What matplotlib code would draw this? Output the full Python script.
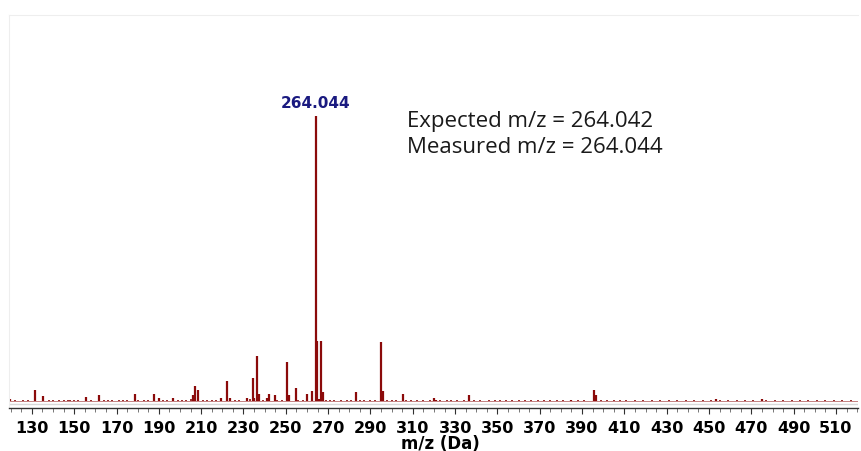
import matplotlib
matplotlib.use("Agg")
import matplotlib.pyplot as plt
from matplotlib.ticker import FixedLocator, MultipleLocator

# ---- data (relative intensity %) ----
peak_mz = [131.4, 135.3, 155.8, 161.8, 178.7, 187.8, 190.2, 196.5,
           206.2, 207.0, 208.3, 219.2, 222.3, 223.6, 231.5, 234.3,
           235.1, 236.3, 237.3, 240.9, 241.9, 244.7, 250.7, 251.5,
           254.8, 259.8, 262.6, 264.044, 264.8, 265.8, 266.7, 267.7,
           283.1, 295.1, 296.0, 305.5, 320.1, 320.9, 336.7, 395.7,
           396.8, 453.3, 474.8, 385.0, 119.8]
peak_int = [4.0, 1.9, 1.5, 2.1, 2.5, 2.5, 1.0, 1.2,
            2.0, 5.2, 4.0, 1.0, 7.0, 1.0, 1.0, 8.2,
            1.0, 15.9, 2.4, 1.1, 2.4, 2.0, 13.6, 2.0,
            4.5, 2.4, 3.4, 100.0, 21.0, 0.7, 21.0, 3.0,
            3.0, 20.6, 3.6, 2.5, 1.0, 0.5, 2.0, 3.9,
            2.0, 0.7, 0.6, 0.4, 0.8]

noise_mz = [122, 126, 128, 138, 140, 143, 145, 147, 148, 150, 152, 158,
            164, 166, 168, 171, 173, 175, 180, 183, 185, 192, 194, 199,
            201, 203, 205, 211, 213, 215, 217, 226, 228, 233, 239, 246,
            248, 256, 258, 269, 271, 273, 276, 279, 281, 285, 287, 290,
            292, 298, 300, 302, 307, 309, 312, 315, 318, 323, 326, 328,
            331, 334, 339, 342, 346, 349, 351, 354, 357, 360, 363, 366,
            369, 372, 375, 378, 381, 388, 391, 399, 402, 405, 408, 411,
            415, 419, 423, 427, 431, 435, 439, 443, 447, 451, 455, 459,
            463, 467, 471, 477, 481, 485, 489, 493, 497, 501, 505, 509,
            513, 517]
noise_int = [0.3, 0.4, 0.3, 0.3, 0.2, 0.4, 0.3, 0.5, 0.3, 0.2, 0.4, 0.3,
             0.5, 0.3, 0.2, 0.4, 0.3, 0.5, 0.3, 0.2, 0.4, 0.3, 0.4, 0.3,
             0.5, 0.4, 0.6, 0.3, 0.4, 0.3, 0.2, 0.4, 0.3, 0.6, 0.4, 0.3,
             0.5, 0.3, 0.4, 0.3, 0.2, 0.4, 0.3, 0.2, 0.3, 0.3, 0.2, 0.3,
             0.2, 0.3, 0.2, 0.3, 0.2, 0.3, 0.2, 0.3, 0.2, 0.3, 0.2, 0.3,
             0.2, 0.3, 0.2, 0.3, 0.3, 0.2, 0.3, 0.4, 0.2, 0.3, 0.2, 0.3,
             0.4, 0.2, 0.3, 0.4, 0.2, 0.3, 0.2, 0.3, 0.2, 0.3, 0.2, 0.3,
             0.2, 0.3, 0.2, 0.3, 0.4, 0.2, 0.3, 0.2, 0.3, 0.4, 0.2, 0.3,
             0.2, 0.3, 0.2, 0.3, 0.2, 0.3, 0.2, 0.3, 0.2, 0.3, 0.2, 0.3,
             0.2, 0.3]

xticks = list(range(130, 511, 20))
expected_mz = 264.042
measured_mz = 264.044

bar_color = "#8b0a0a"

fig = plt.figure(figsize=(8.61, 4.52), dpi=100)
ax = fig.add_axes([9 / 861, 43 / 452, 849 / 861, 393 / 452])

# stick spectrum
ax.vlines(noise_mz, 0, noise_int, color=bar_color, lw=1.2)
ax.vlines(peak_mz, 0, peak_int, color=bar_color, lw=1.6)
# thin red baseline along the noise floor
ax.axhline(0.1, color=bar_color, lw=0.6, alpha=0.6)

ax.set_xlim(119.2, 520.4)
ax.set_ylim(-2.46, 135.4)

# light grey line just above the axis
ax.axhline(-0.9, color="#d8d8d8", lw=1.0, zorder=0)

for s in ["left", "top"]:
    ax.spines[s].set_color("#eeeeee")
    ax.spines[s].set_linewidth(0.8)
ax.spines["right"].set_visible(False)
ax.spines["bottom"].set_color("#303030")
ax.spines["bottom"].set_linewidth(1.0)

ax.set_yticks([])
ax.xaxis.set_major_locator(FixedLocator(xticks))
ax.xaxis.set_minor_locator(MultipleLocator(5))
ax.tick_params(axis="x", which="major", length=4, width=0.8, color="#303030",
               labelsize=11.5, pad=5)
ax.tick_params(axis="x", which="minor", length=3, width=0.6, color="#606060")
for lab in ax.get_xticklabels():
    lab.set_fontweight("bold")

fig.text(440 / 861, 3 / 452, "m/z (Da)", ha="center", va="baseline",
         fontsize=12, fontweight="bold")

ax.annotate(f"{measured_mz:.3f}", xy=(measured_mz, 100), xytext=(0, 4.5),
            textcoords="offset points", ha="center", va="bottom",
            fontsize=11, fontweight="bold", color="#1a1a80")

fig.text(407 / 861, (452 - 126.5) / 452, f"Expected m/z = {expected_mz:.3f}",
         ha="left", va="baseline", fontsize=16, family="Open Sans",
         color="#1a1a1a")
fig.text(407 / 861, (452 - 153.3) / 452, f"Measured m/z = {measured_mz:.3f}",
         ha="left", va="baseline", fontsize=16, family="Open Sans",
         color="#1a1a1a")

plt.savefig("out.png", dpi=100)
plt.close()
